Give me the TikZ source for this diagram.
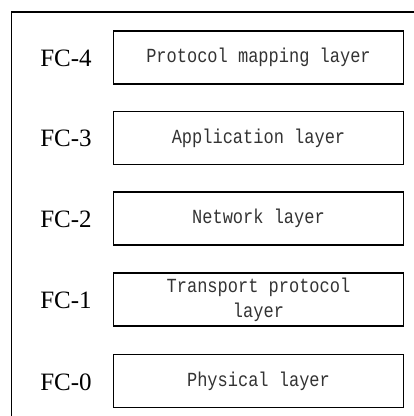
\documentclass[tikz,border=0pt]{standalone}
\usepackage{fontspec}
\setmainfont{Liberation Serif}
\newfontfamily\layerfont[FakeStretch=0.85]{Liberation Mono}
\tikzset{
  layerbox/.style={draw=black, line width=1.2pt, minimum width=290pt, minimum height=53pt,
    inner sep=0pt, align=center, font=\layerfont\fontsize{20pt}{25pt}\selectfont, text=black!80},
  fclabel/.style={inner sep=0pt, font=\fontsize{25pt}{27pt}\selectfont, text=black},
}
\begin{document}
\begin{tikzpicture}[x=1pt,y=-1pt]
  \useasboundingbox (0,0) rectangle (414,416);
  \clip (0,0) rectangle (414,416);
  \fill[white] (0,0) rectangle (414,416);
  % outer frame, running past the right and bottom edges
  \draw[line width=1.1pt] (11.5,12) rectangle (430,430);
  % layer boxes
  \node[layerbox] (l4) at (258.5,57.5) {Protocol mapping layer};
  \node[layerbox] (l3) at (258.5,138) {Application layer};
  \node[layerbox] (l2) at (258.5,218.5) {Network layer};
  \node[layerbox] (l1) at (258.5,299.5) {Transport protocol\\layer};
  \node[layerbox] (l0) at (258.5,381) {Physical layer};
  % level labels
  \node[fclabel] (f4) at (66,58) {FC-4};
  \node[fclabel] (f3) at (66,138.5) {FC-3};
  \node[fclabel] (f2) at (66,219) {FC-2};
  \node[fclabel] (f1) at (66,300) {FC-1};
  \node[fclabel] (f0) at (66,382) {FC-0};
\end{tikzpicture}
\end{document}
